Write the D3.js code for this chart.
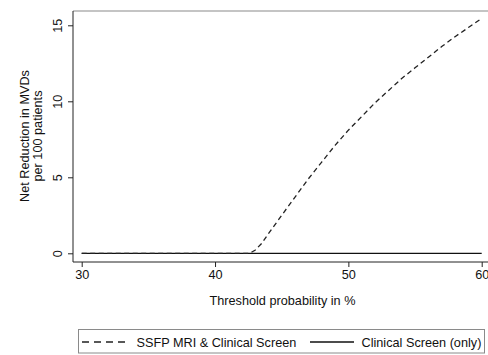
<!DOCTYPE html>
<html><head><meta charset="utf-8">
<script src="https://cdn.jsdelivr.net/npm/d3@7"></script>
<style>body{margin:0;background:#fff}svg{display:block}text{font-family:"Liberation Sans",Arial,Helvetica,sans-serif;fill:#111}</style>
</head><body>
<script>
const thresholds = [30, 35, 40, 42.6, 43, 43.5, 44, 45, 46, 47, 48, 49, 50, 51, 52, 53, 54, 55, 56, 57, 58, 59, 60];
const mriValues  = [0, 0, 0, 0, 0.2, 0.65, 1.28, 2.5, 3.7, 4.9, 6.0, 7.1, 8.1, 9.0, 9.9, 10.7, 11.5, 12.2, 12.9, 13.6, 14.25, 14.85, 15.45];
const clinicalX = [30, 60];
const clinicalValues = [0, 0];
const xTicks = [30, 40, 50, 60];
const yTicks = [0, 5, 10, 15];
const seriesNames = ["SSFP MRI & Clinical Screen", "Clinical Screen (only)"];

const W = 488, H = 355, FS = "12.7px";
const svg = d3.select("body").append("svg").attr("width", W).attr("height", H);
const x = d3.scaleLinear().domain([30, 60]).range([81.7, 481.7]);
const y = d3.scaleLinear().domain([0, 15]).range([253.3, 25.3]);
const pL = 73, pT = 11, pB = 262, pR = 488;

// plot region outline (top)
svg.append("line").attr("x1", pL).attr("x2", pR).attr("y1", pT).attr("y2", pT)
  .attr("stroke", "#8a8a8a").attr("stroke-width", 1.2);

// axes
const xAxis = svg.append("g").attr("transform", `translate(0,${pB})`)
  .call(d3.axisBottom(x).tickValues(xTicks).tickSize(5).tickPadding(3).tickFormat(d3.format("d")));
xAxis.select(".domain").remove();
xAxis.append("line").attr("x1", pL).attr("x2", pR).attr("stroke", "#222");
xAxis.selectAll("text").style("font-size", FS).attr("fill", "#111");
xAxis.selectAll(".tick line").attr("stroke", "#222");

const yAxis = svg.append("g").attr("transform", `translate(${pL},0)`)
  .call(d3.axisLeft(y).tickValues(yTicks).tickSize(5).tickFormat(d3.format("d")));
yAxis.select(".domain").remove();
yAxis.append("line").attr("y1", pT).attr("y2", pB).attr("stroke", "#222");
yAxis.selectAll(".tick line").attr("stroke", "#222");
yAxis.selectAll("text").style("font-size", FS).attr("fill", "#111")
  .attr("x", null).attr("dy", null)
  .attr("transform", "translate(-11,0) rotate(-90)")
  .attr("text-anchor", "middle");

// axis titles
svg.append("text").attr("x", 282.5).attr("y", 304.5).attr("text-anchor", "middle")
  .style("font-size", FS).text("Threshold probability in %");
const yt = svg.append("text").attr("transform", "translate(28.5,136) rotate(-90)").attr("text-anchor", "middle")
  .style("font-size", FS);
yt.append("tspan").attr("x", 0).attr("y", 0).text("Net Reduction in MVDs");
yt.append("tspan").attr("x", 0).attr("y", 13).text("per 100 patients");

// series
const line = d3.line().x(d => x(d[0])).y(d => y(d[1]));
svg.append("path").datum(clinicalX.map((v, i) => [v, clinicalValues[i]]))
  .attr("d", line).attr("fill", "none").attr("stroke", "#111").attr("stroke-width", 1.3);
svg.append("path").datum(thresholds.map((v, i) => [v, mriValues[i]]))
  .attr("d", line).attr("fill", "none").attr("stroke", "#222").attr("stroke-width", 1.3)
  .attr("stroke-dasharray", "5,3.5");

// legend
svg.append("rect").attr("x", 78.5).attr("y", 329.5).attr("width", 406).attr("height", 23.5)
  .attr("fill", "none").attr("stroke", "#8a8a8a").attr("stroke-width", 1);
const ly = 342;
svg.append("line").attr("x1", 82).attr("x2", 126).attr("y1", ly).attr("y2", ly)
  .attr("stroke", "#222").attr("stroke-width", 1.3).attr("stroke-dasharray", "7,5");
svg.append("text").attr("x", 136.5).attr("y", ly + 4.5).style("font-size", FS).text(seriesNames[0]);
svg.append("line").attr("x1", 310).attr("x2", 354).attr("y1", ly).attr("y2", ly)
  .attr("stroke", "#111").attr("stroke-width", 1.3);
svg.append("text").attr("x", 361.5).attr("y", ly + 4.5).style("font-size", FS).text(seriesNames[1]);
</script>
</body></html>
